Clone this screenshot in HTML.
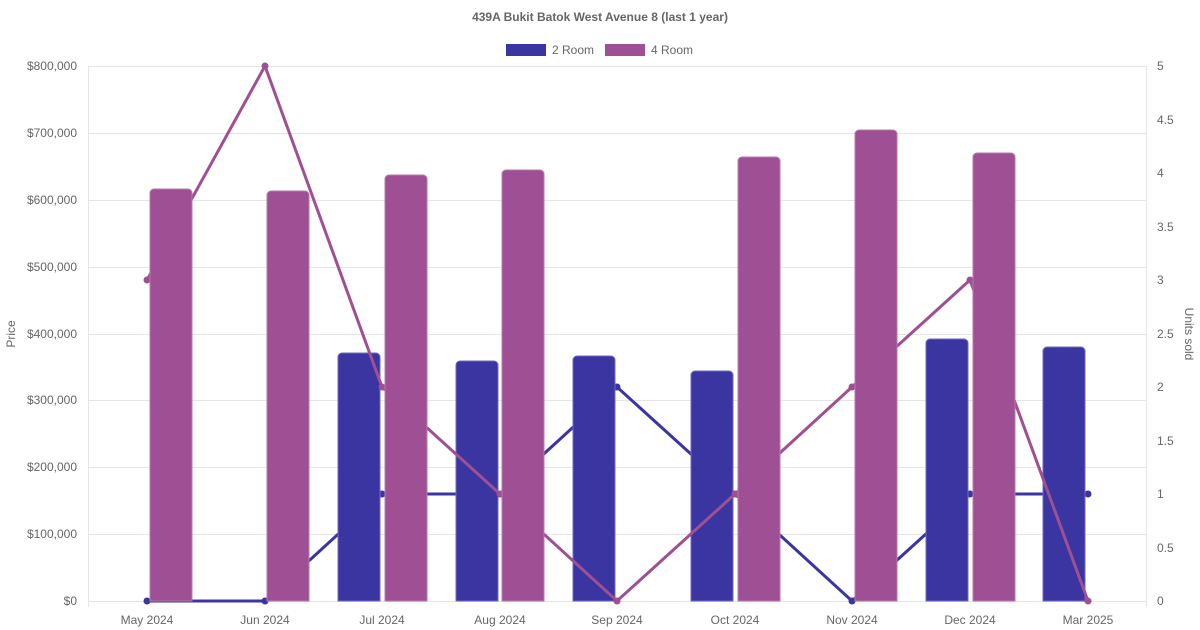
<!DOCTYPE html>
<html><head><meta charset="utf-8"><style>body{margin:0;background:#fff}svg{display:block;font-family:"Liberation Sans",sans-serif}</style></head><body>
<svg width="1200" height="630" xmlns="http://www.w3.org/2000/svg">
<text x="600" y="21" text-anchor="middle" font-size="12" font-weight="bold" fill="#666">439A Bukit Batok West Avenue 8 (last 1 year)</text>
<rect x="506" y="44" width="40" height="12" fill="#3a35a0"/><text x="552" y="54" font-size="12" fill="#666">2 Room</text>
<rect x="605" y="44" width="40" height="12" fill="#9f5094"/><text x="651" y="54" font-size="12" fill="#666">4 Room</text>
<g stroke="#e5e5e5" stroke-width="1">
<line x1="88" y1="66.5" x2="1146" y2="66.5"/><line x1="88" y1="133.5" x2="1146" y2="133.5"/><line x1="88" y1="200.5" x2="1146" y2="200.5"/><line x1="88" y1="267.5" x2="1146" y2="267.5"/><line x1="88" y1="334.5" x2="1146" y2="334.5"/><line x1="88" y1="400.5" x2="1146" y2="400.5"/><line x1="88" y1="467.5" x2="1146" y2="467.5"/><line x1="88" y1="534.5" x2="1146" y2="534.5"/><line x1="88" y1="601.5" x2="1146" y2="601.5"/>
<line x1="88.5" y1="66" x2="88.5" y2="607"/><line x1="1146.5" y1="66" x2="1146.5" y2="607"/>
</g>
<g font-size="12" fill="#666" text-anchor="end">
<text x="77" y="70">$800,000</text><text x="77" y="137">$700,000</text><text x="77" y="204">$600,000</text><text x="77" y="271">$500,000</text><text x="77" y="338">$400,000</text><text x="77" y="404">$300,000</text><text x="77" y="471">$200,000</text><text x="77" y="538">$100,000</text><text x="77" y="605">$0</text>
</g>
<g font-size="12" fill="#666">
<text x="1157" y="70">5</text><text x="1157" y="124">4.5</text><text x="1157" y="177">4</text><text x="1157" y="231">3.5</text><text x="1157" y="284">3</text><text x="1157" y="338">2.5</text><text x="1157" y="391">2</text><text x="1157" y="445">1.5</text><text x="1157" y="498">1</text><text x="1157" y="552">0.5</text><text x="1157" y="605">0</text>
</g>
<text transform="translate(15,334) rotate(-90)" text-anchor="middle" font-size="12" fill="#666">Price</text>
<text transform="translate(1185,334) rotate(90)" text-anchor="middle" font-size="12" fill="#666">Units sold</text>
<g font-size="12" fill="#666" text-anchor="middle">
<text x="147" y="624">May 2024</text><text x="265" y="624">Jun 2024</text><text x="382" y="624">Jul 2024</text><text x="500" y="624">Aug 2024</text><text x="617" y="624">Sep 2024</text><text x="735" y="624">Oct 2024</text><text x="852" y="624">Nov 2024</text><text x="970" y="624">Dec 2024</text><text x="1088" y="624">Mar 2025</text>
</g>
<polyline fill="none" stroke="#3a35a0" stroke-width="3" points="147,601 265,601 382,494 500,494 617,387 735,494 852,601 970,494 1088,494"/>
<g fill="#3a35a0"><circle cx="147" cy="601" r="3.5"/><circle cx="265" cy="601" r="3.5"/><circle cx="382" cy="494" r="3.5"/><circle cx="500" cy="494" r="3.5"/><circle cx="617" cy="387" r="3.5"/><circle cx="735" cy="494" r="3.5"/><circle cx="852" cy="601" r="3.5"/><circle cx="970" cy="494" r="3.5"/><circle cx="1088" cy="494" r="3.5"/></g>
<g fill="#3a35a0" stroke="#6e6ac0" stroke-width="1">
<path d="M338,601V357a4,4 0 0 1 4,-4H376a4,4 0 0 1 4,4V601Z"/>
<path d="M456,601V365a4,4 0 0 1 4,-4H494a4,4 0 0 1 4,4V601Z"/>
<path d="M573,601V360a4,4 0 0 1 4,-4H611a4,4 0 0 1 4,4V601Z"/>
<path d="M691,601V375a4,4 0 0 1 4,-4H729a4,4 0 0 1 4,4V601Z"/>
<path d="M926,601V343a4,4 0 0 1 4,-4H964a4,4 0 0 1 4,4V601Z"/>
<path d="M1043,601V351a4,4 0 0 1 4,-4H1081a4,4 0 0 1 4,4V601Z"/>
</g>
<polyline fill="none" stroke="#9f5094" stroke-width="3" points="147,280 265,66 382,387 500,494 617,601 735,494 852,387 970,280 1088,601"/>
<g fill="#9f5094"><circle cx="147" cy="280" r="3.5"/><circle cx="265" cy="66" r="3.5"/><circle cx="382" cy="387" r="3.5"/><circle cx="500" cy="494" r="3.5"/><circle cx="617" cy="601" r="3.5"/><circle cx="735" cy="494" r="3.5"/><circle cx="852" cy="387" r="3.5"/><circle cx="970" cy="280" r="3.5"/><circle cx="1088" cy="601" r="3.5"/></g>
<g fill="#9f5094" stroke="#b57aab" stroke-width="1">
<path d="M150,601V193a4,4 0 0 1 4,-4H188a4,4 0 0 1 4,4V601Z"/>
<path d="M267,601V195a4,4 0 0 1 4,-4H305a4,4 0 0 1 4,4V601Z"/>
<path d="M385,601V179a4,4 0 0 1 4,-4H423a4,4 0 0 1 4,4V601Z"/>
<path d="M502,601V174a4,4 0 0 1 4,-4H540a4,4 0 0 1 4,4V601Z"/>
<path d="M738,601V161a4,4 0 0 1 4,-4H776a4,4 0 0 1 4,4V601Z"/>
<path d="M855,601V134a4,4 0 0 1 4,-4H893a4,4 0 0 1 4,4V601Z"/>
<path d="M973,601V157a4,4 0 0 1 4,-4H1011a4,4 0 0 1 4,4V601Z"/>
</g>
</svg>
</body></html>
